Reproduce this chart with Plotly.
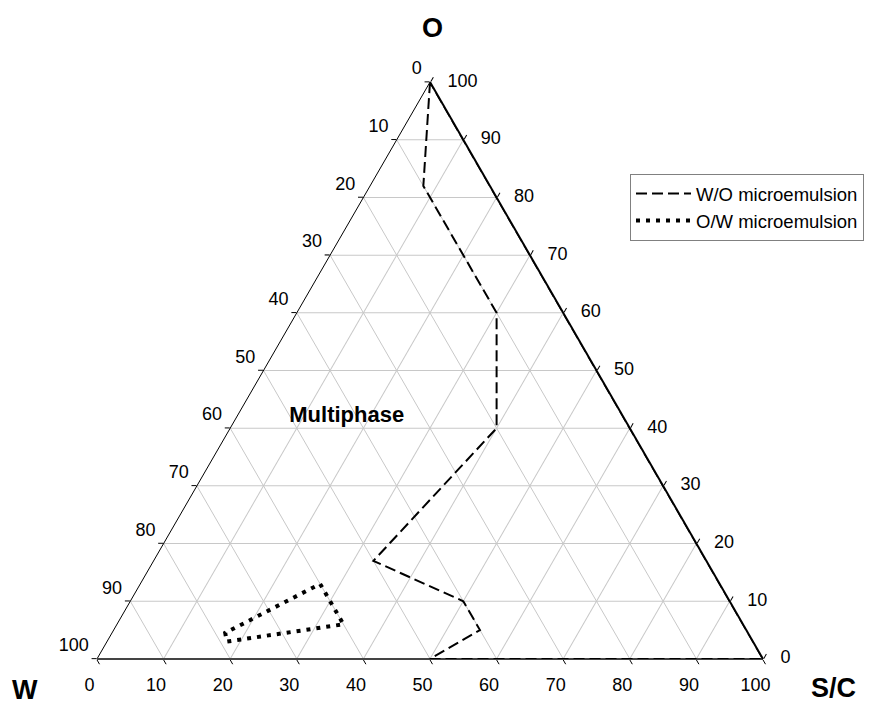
import plotly.graph_objects as go

# Ternary compositions (percent): O (top), W (bottom-left), S/C (bottom-right)
wo_O = [100, 82, 60, 40, 17, 10, 5, 0, 0, 100]
wo_W = [0, 10, 10, 20, 50, 40, 40, 50, 0, 0]
wo_SC = [0, 8, 30, 40, 33, 50, 55, 50, 100, 0]

ow_O = [13, 6, 3, 4.5, 13]
ow_W = [60, 60, 79, 78.5, 60]
ow_SC = [27, 34, 18, 17, 27]

label_O = [42]
label_W = [41.5]
label_SC = [16.5]
label_text = ["Multiphase"]

tick_vals = [0, 10, 20, 30, 40, 50, 60, 70, 80, 90, 100]
tick_labels = [str(v) for v in tick_vals]

FONT = "Arial, Liberation Sans, sans-serif"
NB = "\u00a0"

fig = go.Figure()
fig.add_trace(go.Scatterternary(
    a=wo_O, b=wo_W, c=wo_SC, mode="lines", name="W/O microemulsion",
    line=dict(color="black", width=2, dash="11px,5px"),
    cliponaxis=False,
))
fig.add_trace(go.Scatterternary(
    a=ow_O, b=ow_W, c=ow_SC, mode="lines", name="O/W microemulsion",
    line=dict(color="black", width=4, dash="4px,6px"),
    cliponaxis=False,
))
fig.add_trace(go.Scatterternary(
    a=label_O, b=label_W, c=label_SC, mode="text", text=label_text,
    textfont=dict(family=FONT, size=22, color="black", weight="bold"),
    showlegend=False, hoverinfo="skip", cliponaxis=False,
))

tick_font = dict(family=FONT, size=18, color="black")
# Edge tick labels: W along the left edge, O along the right edge, S/C along the bottom
fig.add_trace(go.Scatterternary(  # W labels (left edge)
    a=[100 - v for v in tick_vals], b=tick_vals, c=[0] * len(tick_vals),
    mode="markers+text", text=[t + NB for t in tick_labels], textposition="top left",
    marker=dict(size=3.5, opacity=0), textfont=tick_font,
    showlegend=False, hoverinfo="skip", cliponaxis=False,
))
fig.add_trace(go.Scatterternary(  # O labels (right edge)
    a=tick_vals, b=[0] * len(tick_vals), c=[100 - v for v in tick_vals],
    mode="markers+text", text=tick_labels, textposition="middle right",
    marker=dict(size=26.4, opacity=0), textfont=tick_font,
    showlegend=False, hoverinfo="skip", cliponaxis=False,
))
fig.add_trace(go.Scatterternary(  # S/C labels (bottom edge)
    a=[0] * len(tick_vals), b=[100 - v for v in tick_vals], c=tick_vals,
    mode="markers+text", text=[t + NB * 3 for t in tick_labels], textposition="bottom center",
    marker=dict(size=28, opacity=0), textfont=tick_font,
    showlegend=False, hoverinfo="skip", cliponaxis=False,
))

def axis(linecolor="black", linewidth=1):
    return dict(
        title=dict(text=""),
        min=0, tickmode="array", tickvals=tick_vals,
        showticklabels=False,
        ticks="outside", ticklen=5, tickcolor="black",
        showgrid=True, gridcolor="#c8c8c8", gridwidth=1,
        showline=True, linecolor=linecolor, linewidth=linewidth,
        layer="below traces",
    )

title_font = dict(family=FONT, size=27, color="black")
fig.update_layout(
    width=871, height=704,
    margin=dict(l=0, r=0, t=0, b=0),
    paper_bgcolor="white",
    ternary=dict(
        sum=100,
        bgcolor="white",
        domain=dict(x=[97 / 871, 763 / 871], y=[0.05372, 0.89372]),
        aaxis=axis(),
        baxis=axis(linecolor="#444444", linewidth=2),
        caxis=axis(linewidth=2),
    ),
    legend=dict(
        x=630 / 871, y=1 - 174 / 704, xanchor="left", yanchor="top",
        bgcolor="white", bordercolor="#808080", borderwidth=1,
        font=dict(family=FONT, size=18.5, color="black"),
        itemwidth=55,
    ),
    showlegend=True,
    annotations=[
        dict(text="<b>O</b>", x=432 / 871, y=1 - 28 / 704, xref="paper", yref="paper",
             xanchor="center", yanchor="middle", showarrow=False, font=title_font),
        dict(text="<b>W</b>", x=25 / 871, y=1 - 690 / 704, xref="paper", yref="paper",
             xanchor="center", yanchor="middle", showarrow=False, font=title_font),
        dict(text="<b>S/C</b>", x=833 / 871, y=1 - 688 / 704, xref="paper", yref="paper",
             xanchor="center", yanchor="middle", showarrow=False, font=title_font),
    ],
)

fig.write_html("out.html")
